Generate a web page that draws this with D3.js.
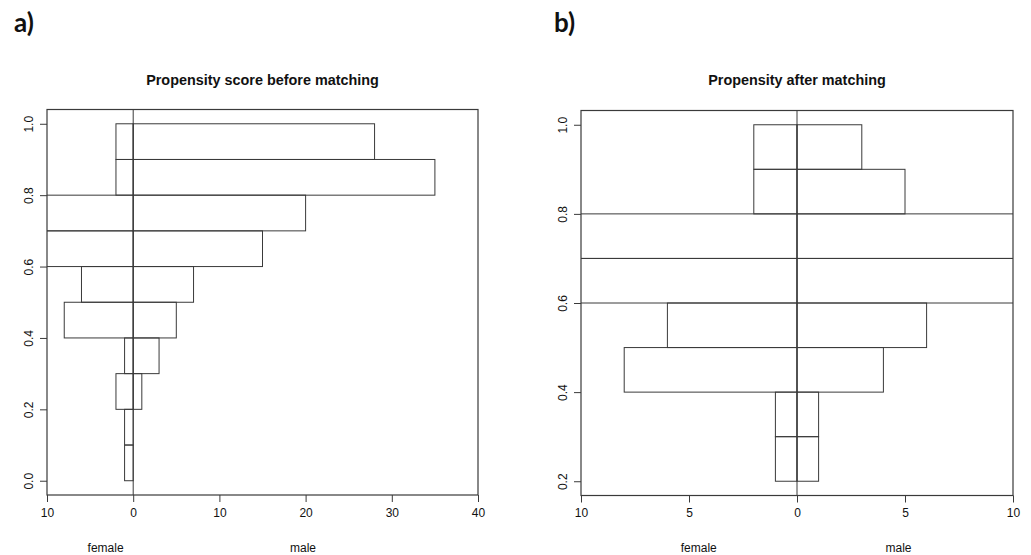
<!DOCTYPE html>
<html>
<head>
<meta charset="utf-8">
<script src="https://cdn.jsdelivr.net/npm/d3@7"></script>
<style>
  body { margin: 0; background: #fff; }
  text { font-family: "Liberation Sans", Arial, sans-serif; fill: #111; }
</style>
</head>
<body>
<div id="chart"></div>
<script>
// Panel a) - before matching (bins of 0.1, lower edges)
const binStartsA = [0.0, 0.1, 0.2, 0.3, 0.4, 0.5, 0.6, 0.7, 0.8, 0.9];
const femaleA = [1, 1, 2, 1, 8, 6, 12, 15, 2, 2];   // 0.6-0.8 run off the plot
const maleA = [0, 0, 1, 3, 5, 7, 15, 20, 35, 28];
const xTicksA = [-10, 0, 10, 20, 30, 40];
const yTicksA = [0.0, 0.2, 0.4, 0.6, 0.8, 1.0];

// Panel b) - after matching
const binStartsB = [0.2, 0.3, 0.4, 0.5, 0.6, 0.7, 0.8, 0.9];
const femaleB = [1, 1, 8, 6, 12, 14, 2, 2];
const maleB = [1, 1, 4, 6, 12, 14, 5, 3];
const xTicksB = [-10, -5, 0, 5, 10];
const yTicksB = [0.2, 0.4, 0.6, 0.8, 1.0];

const binWidth = 0.1;
const lineColor = "#3a3a3a";

const svg = d3.select("#chart").append("svg")
    .attr("width", 1031)
    .attr("height", 555);

function drawPanel(cfg) {
    const x = d3.scaleLinear().domain(cfg.xDomain).range([cfg.left, cfg.right]);
    const y = d3.scaleLinear().domain(cfg.yDomain).range([cfg.bottom, cfg.top]);

    const g = svg.append("g");

    g.append("clipPath").attr("id", cfg.id + "-clip")
        .append("rect")
        .attr("x", cfg.left).attr("y", cfg.top)
        .attr("width", cfg.right - cfg.left)
        .attr("height", cfg.bottom - cfg.top);

    const bars = g.append("g").attr("clip-path", `url(#${cfg.id}-clip)`);

    // female bars go to the left of zero, male bars to the right
    bars.selectAll(".female")
        .data(cfg.bins.map((b, i) => ({ b, v: cfg.female[i] })))
        .enter().append("rect")
        .attr("x", d => x(-d.v))
        .attr("y", d => y(d.b + binWidth))
        .attr("width", d => x(0) - x(-d.v))
        .attr("height", d => y(d.b) - y(d.b + binWidth))
        .attr("fill", "none")
        .attr("stroke", lineColor);

    bars.selectAll(".male")
        .data(cfg.bins.map((b, i) => ({ b, v: cfg.male[i] })))
        .enter().append("rect")
        .attr("x", x(0))
        .attr("y", d => y(d.b + binWidth))
        .attr("width", d => x(d.v) - x(0))
        .attr("height", d => y(d.b) - y(d.b + binWidth))
        .attr("fill", "none")
        .attr("stroke", lineColor);

    // vertical line at zero
    g.append("line")
        .attr("x1", x(0)).attr("x2", x(0))
        .attr("y1", cfg.top).attr("y2", cfg.bottom)
        .attr("stroke", lineColor);

    // frame
    g.append("rect")
        .attr("x", cfg.left).attr("y", cfg.top)
        .attr("width", cfg.right - cfg.left)
        .attr("height", cfg.bottom - cfg.top)
        .attr("fill", "none")
        .attr("stroke", lineColor)
        .attr("stroke-width", 1.2);

    const xAxis = g.append("g")
        .attr("transform", `translate(0, ${cfg.bottom})`)
        .call(d3.axisBottom(x).tickValues(cfg.xTicks).tickFormat(d => Math.abs(d))
            .tickSize(7).tickPadding(6));
    xAxis.select(".domain").remove();

    const yAxis = g.append("g")
        .attr("transform", `translate(${cfg.left}, 0)`)
        .call(d3.axisLeft(y).tickValues(cfg.yTicks).tickFormat(d3.format(".1f")).tickSize(7));
    yAxis.select(".domain").remove();
    yAxis.selectAll("text")
        .attr("transform", "rotate(-90)")
        .attr("x", 0)
        .attr("y", -18.5)
        .attr("dy", "0.35em")
        .style("text-anchor", "middle");

    [xAxis, yAxis].forEach(a => {
        a.selectAll("line").attr("stroke", lineColor);
        a.selectAll("text").style("font-size", "12px")
            .style("font-family", "'Liberation Sans', Arial, sans-serif").attr("fill", "#111");
    });

    g.append("text")
        .attr("x", (cfg.left + cfg.right) / 2)
        .attr("y", 85)
        .attr("text-anchor", "middle")
        .style("font-size", "14.4px")
        .style("font-weight", "bold")
        .text(cfg.title);

    g.append("text")
        .attr("x", x(cfg.femaleLabelAt))
        .attr("y", 552)
        .attr("text-anchor", "middle")
        .style("font-size", "12px")
        .text("female");

    g.append("text")
        .attr("x", x(cfg.maleLabelAt))
        .attr("y", 552)
        .attr("text-anchor", "middle")
        .style("font-size", "12px")
        .text("male");

    svg.append("text")
        .attr("x", cfg.tagX)
        .attr("y", 32)
        .style("font-family", "Lato, 'Open Sans', sans-serif")
        .style("font-weight", "bold")
        .style("font-size", "26px")
        .attr("fill", "#000")
        .text(cfg.tag);
}

drawPanel({
    id: "a", tag: "a)", tagX: 14,
    title: "Propensity score before matching",
    left: 47, right: 478, top: 109.5, bottom: 495,
    xDomain: [-10, 40], yDomain: [-0.04, 1.04],
    xTicks: xTicksA, yTicks: yTicksA,
    bins: binStartsA, female: femaleA, male: maleA,
    femaleLabelAt: -3.2, maleLabelAt: 19.7
});

drawPanel({
    id: "b", tag: "b)", tagX: 554,
    title: "Propensity after matching",
    left: 581, right: 1013, top: 110.5, bottom: 495.5,
    xDomain: [-10, 10], yDomain: [0.168, 1.032],
    xTicks: xTicksB, yTicks: yTicksB,
    bins: binStartsB, female: femaleB, male: maleB,
    femaleLabelAt: -4.55, maleLabelAt: 4.7
});
</script>
</body>
</html>
